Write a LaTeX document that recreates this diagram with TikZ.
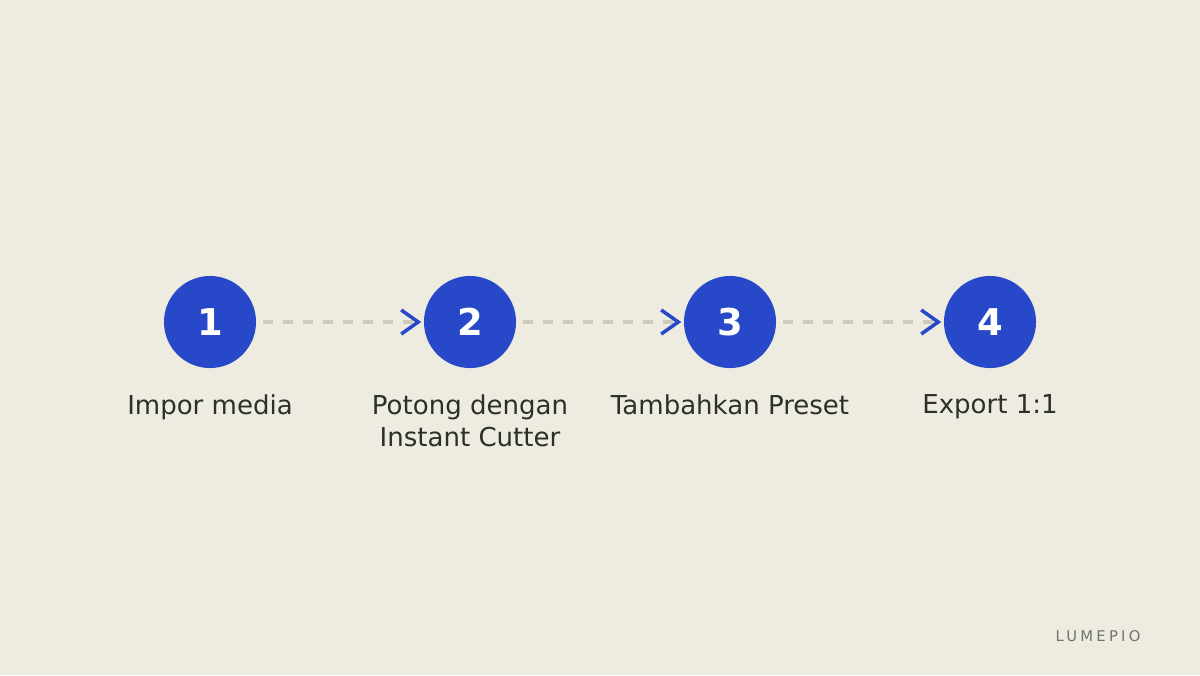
\documentclass[tikz,border=0pt]{standalone}
\usepackage{fontspec}
\setmainfont{DejaVu Sans}
\newfontfamily\brandfont[LetterSpace=22]{DejaVu Sans}
\usetikzlibrary{arrows.meta,positioning}
\definecolor{paper}{HTML}{EEEBE0}
\definecolor{stepblue}{HTML}{2748C8}
\definecolor{dashgrey}{HTML}{D0CCBC}
\definecolor{labeltext}{HTML}{2B3028}
\definecolor{brandgrey}{HTML}{70756A}
\tikzset{%
	stepdot/.style   = {circle, fill=stepblue, text=white, minimum size=0.92cm, inner sep=0pt,
	                    font=\fontsize{10.5}{12}\selectfont\bfseries},
	steplabel/.style = {text=labeltext, align=center, inner sep=0pt,
	                    font=\fontsize{7.4}{9.1}\selectfont},
	link/.style      = {draw=dashgrey, line width=0.04cm, dash pattern=on 0.1cm off 0.1cm,
	                    shorten <=0.06cm, shorten >=0.02cm,
	                    -{Straight Barb[color=stepblue, length=0.17cm, width=0.24cm, line width=0.035cm]}},
}

\begin{document}
\begin{tikzpicture}[x=0.01cm, y=-0.01cm]
	\fill[paper] (0,0) rectangle (1200,675);
	\useasboundingbox (0,0) rectangle (1200,675);
	\node[stepdot] (n1) at (210,322) {1};
	\node[stepdot] (n2) at (470,322) {2};
	\node[stepdot] (n3) at (730,322) {3};
	\node[stepdot] (n4) at (990,322) {4};
	\node[steplabel, below=0.255cm of n1] (l1) {Impor media};
	\node[steplabel, below=0.255cm of n2] (l2) {Potong dengan\\Instant Cutter};
	\node[steplabel, below=0.255cm of n3] (l3) {Tambahkan Preset};
	\node[steplabel, below=0.255cm of n4] (l4) {Export 1:1};
	\draw[link] (n1) -- (n2);
	\draw[link] (n2) -- (n3);
	\draw[link] (n3) -- (n4);
	\node[text=brandgrey, font=\fontsize{4.2}{5}\selectfont\brandfont] (brand) at (1098,636) {LUMEPIO};
\end{tikzpicture}
\end{document}
